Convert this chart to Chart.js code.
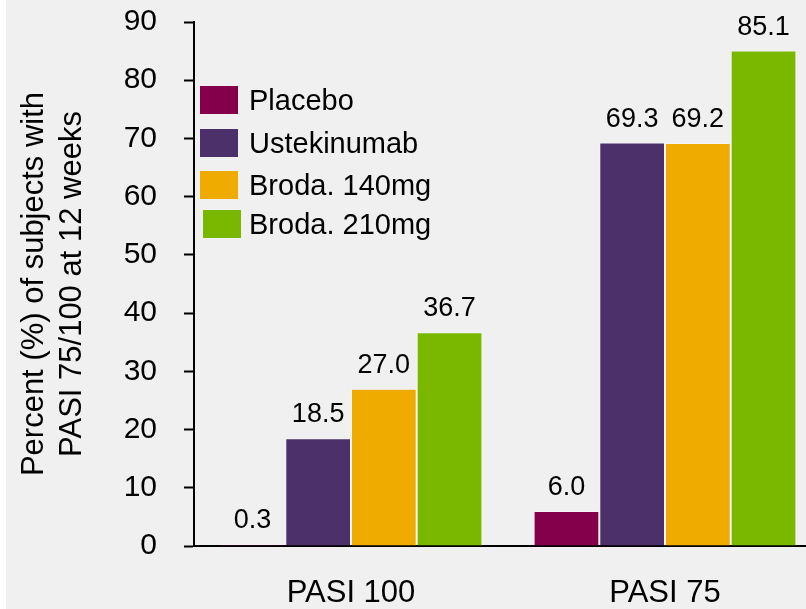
<!DOCTYPE html>
<html>
<head>
<meta charset="utf-8">
<script src="https://cdn.jsdelivr.net/npm/chart.js@4.4.1/dist/chart.umd.min.js"></script>
<style>
  html, body { margin: 0; padding: 0; background: #ffffff; overflow: hidden; width: 806px; height: 609px; }
  #wrap { position: absolute; left: 6px; top: 0; width: 816px; height: 609px; background: #f0f0f0; }
  canvas { display: block; }
</style>
</head>
<body>
<div id="wrap"><canvas id="c" width="816" height="609" style="width:816px;height:609px"></canvas></div>
<script>
// Categories and series values
const categories = ['PASI 100', 'PASI 75'];
const seriesNames = ['Placebo', 'Ustekinumab', 'Broda. 140mg', 'Broda. 210mg'];
const placebo = [0.3, 6.0];
const ustekinumab = [18.5, 69.3];
const broda140 = [27.0, 69.2];
const broda210 = [36.7, 85.1];
const yTickValues = [0, 10, 20, 30, 40, 50, 60, 70, 80, 90];
const axisTitle = ['Percent (%) of subjects with', 'PASI 75/100 at 12 weeks'];

const seriesValues = [placebo, ustekinumab, broda140, broda210];
const seriesColors = ['#85004B', '#4B3069', '#F0AB00', '#7AB800'];
const FONT = "'Liberation Sans', Arial, sans-serif";

// Value labels above each bar
const valueLabels = {
  id: 'valueLabels',
  afterDatasetsDraw(chart) {
    const ctx = chart.ctx;
    ctx.save();
    ctx.fillStyle = '#000';
    ctx.font = '27px ' + FONT;
    ctx.textAlign = 'center';
    ctx.textBaseline = 'alphabetic';
    chart.data.datasets.forEach((ds, i) => {
      chart.getDatasetMeta(i).data.forEach((bar, j) => {
        ctx.fillText(ds.data[j].toFixed(1), bar.x, bar.y - 16);
      });
    });
    ctx.restore();
  }
};

// Legend drawn inside the plot area, top-left
const insideLegend = {
  id: 'insideLegend',
  afterDraw(chart, args, opts) {
    const ctx = chart.ctx;
    const left = chart.chartArea.left + opts.offsetX;
    ctx.save();
    ctx.font = '29px ' + FONT;
    ctx.textAlign = 'left';
    ctx.textBaseline = 'middle';
    chart.data.datasets.forEach((ds, i) => {
      const x = left + opts.shiftX[i];
      const y = opts.rowTops[i];
      ctx.fillStyle = ds.backgroundColor;
      ctx.fillRect(x, y, opts.boxW, opts.boxH);
      ctx.fillStyle = '#000';
      ctx.fillText(ds.label, left + opts.boxW + opts.gap, y + opts.boxH / 2 + 2);
    });
    ctx.restore();
  }
};

new Chart(document.getElementById('c'), {
  type: 'bar',
  data: {
    labels: categories,
    datasets: seriesNames.map((name, i) => ({
      label: name,
      data: seriesValues[i],
      backgroundColor: seriesColors[i],
      borderColor: 'rgba(255,255,255,0.3)',
      borderWidth: 1,
      categoryPercentage: 0.837,
      barPercentage: 1.0
    }))
  },
  options: {
    responsive: false,
    animation: false,
    layout: { padding: 0 },
    plugins: {
      legend: { display: false },
      tooltip: { enabled: false },
      insideLegend: {
        offsetX: 6,
        shiftX: [0, 0, 0, 3],
        rowTops: [86, 129, 171, 210],
        boxW: 38,
        boxH: 28,
        gap: 11
      }
    },
    scales: {
      x: {
        grid: { display: false, drawTicks: false },
        border: { display: true, color: '#000', width: 2 },
        ticks: { color: '#000', font: { family: FONT, size: 31 }, padding: 29 },
        afterFit(scale) { scale.height = 63; }
      },
      y: {
        min: 0,
        max: 90,
        afterBuildTicks(scale) { scale.ticks = yTickValues.map(v => ({ value: v })); },
        grid: { display: true, drawOnChartArea: false, drawTicks: true, tickLength: 10, tickWidth: 2, tickColor: '#000' },
        border: { display: true, color: '#000', width: 2 },
        ticks: { color: '#000', font: { family: FONT, size: 30 }, padding: 27 },
        title: {
          display: true,
          text: axisTitle,
          color: '#000',
          font: { family: FONT, size: 31, lineHeight: 1.23 },
          padding: { top: 9, bottom: 0 }
        },
        afterFit(scale) { scale.width = 188; scale.paddingTop = 22; }
      }
    }
  },
  plugins: [valueLabels, insideLegend]
});
</script>
</body>
</html>
